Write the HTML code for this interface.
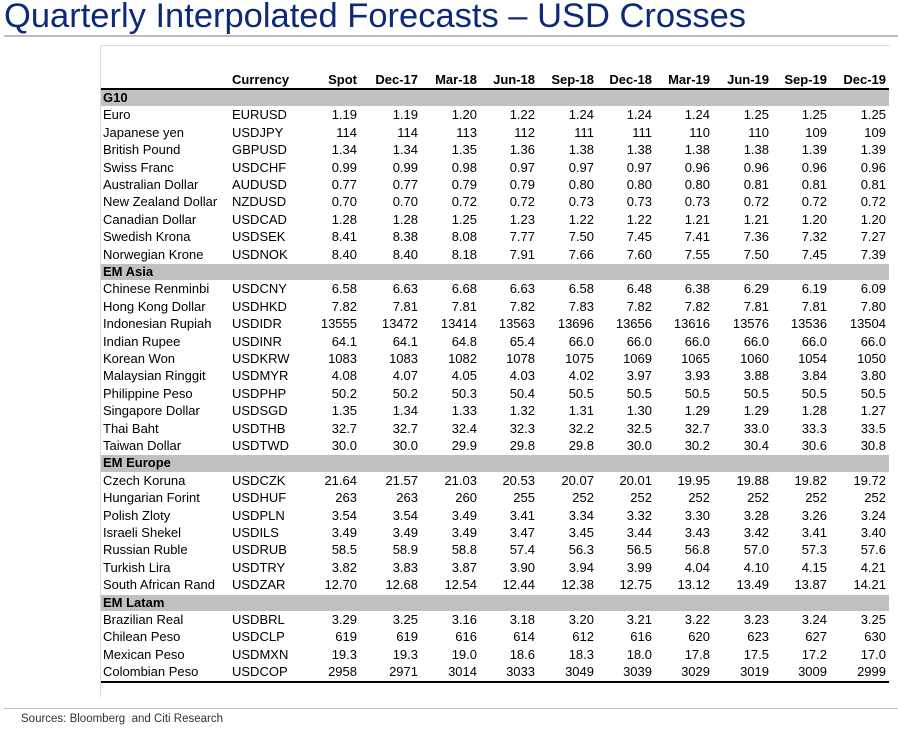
<!DOCTYPE html>
<html><head><meta charset="utf-8">
<style>
body{margin:0;width:898px;height:731px;background:#fff;position:relative;overflow:hidden;font-family:"Liberation Sans",Arial,sans-serif;}
.t{position:absolute;white-space:nowrap;font-size:13px;color:#000;line-height:17.4px;}
.b{font-weight:bold;}
</style></head><body>
<div style="position:absolute;left:4px;top:-3px;font-size:34.5px;color:#0d2a78;white-space:nowrap;">Quarterly Interpolated Forecasts – USD Crosses</div>
<div style="position:absolute;left:4px;top:35px;width:894px;height:2px;background:#bdbdbd;"></div>
<div style="position:absolute;left:100px;top:45px;width:790px;height:1px;background:#dcdcdc;"></div>
<div style="position:absolute;left:100px;top:45px;width:1px;height:652px;background:#dcdcdc;"></div>
<div style="position:absolute;left:4px;top:708px;width:894px;height:1px;background:#bdbdbd;"></div>
<div style="position:absolute;left:21px;top:713px;font-size:11.5px;color:#333;white-space:nowrap;">Sources: Bloomberg&nbsp; and Citi Research</div>
<div id="tbl"></div>
<script>
const headers=["Spot","Dec-17","Mar-18","Jun-18","Sep-18","Dec-18","Mar-19","Jun-19","Sep-19","Dec-19"];
const groups=["G10","EM Asia","EM Europe","EM Latam"];
const g10Names=["Euro","Japanese yen","British Pound","Swiss Franc","Australian Dollar","New Zealand Dollar","Canadian Dollar","Swedish Krona","Norwegian Krone"];
const g10Codes=["EURUSD","USDJPY","GBPUSD","USDCHF","AUDUSD","NZDUSD","USDCAD","USDSEK","USDNOK"];
const g10Values=[
["1.19","1.19","1.20","1.22","1.24","1.24","1.24","1.25","1.25","1.25"],
["114","114","113","112","111","111","110","110","109","109"],
["1.34","1.34","1.35","1.36","1.38","1.38","1.38","1.38","1.39","1.39"],
["0.99","0.99","0.98","0.97","0.97","0.97","0.96","0.96","0.96","0.96"],
["0.77","0.77","0.79","0.79","0.80","0.80","0.80","0.81","0.81","0.81"],
["0.70","0.70","0.72","0.72","0.73","0.73","0.73","0.72","0.72","0.72"],
["1.28","1.28","1.25","1.23","1.22","1.22","1.21","1.21","1.20","1.20"],
["8.41","8.38","8.08","7.77","7.50","7.45","7.41","7.36","7.32","7.27"],
["8.40","8.40","8.18","7.91","7.66","7.60","7.55","7.50","7.45","7.39"]];
const asiaNames=["Chinese Renminbi","Hong Kong Dollar","Indonesian Rupiah","Indian Rupee","Korean Won","Malaysian Ringgit","Philippine Peso","Singapore Dollar","Thai Baht","Taiwan Dollar"];
const asiaCodes=["USDCNY","USDHKD","USDIDR","USDINR","USDKRW","USDMYR","USDPHP","USDSGD","USDTHB","USDTWD"];
const asiaValues=[
["6.58","6.63","6.68","6.63","6.58","6.48","6.38","6.29","6.19","6.09"],
["7.82","7.81","7.81","7.82","7.83","7.82","7.82","7.81","7.81","7.80"],
["13555","13472","13414","13563","13696","13656","13616","13576","13536","13504"],
["64.1","64.1","64.8","65.4","66.0","66.0","66.0","66.0","66.0","66.0"],
["1083","1083","1082","1078","1075","1069","1065","1060","1054","1050"],
["4.08","4.07","4.05","4.03","4.02","3.97","3.93","3.88","3.84","3.80"],
["50.2","50.2","50.3","50.4","50.5","50.5","50.5","50.5","50.5","50.5"],
["1.35","1.34","1.33","1.32","1.31","1.30","1.29","1.29","1.28","1.27"],
["32.7","32.7","32.4","32.3","32.2","32.5","32.7","33.0","33.3","33.5"],
["30.0","30.0","29.9","29.8","29.8","30.0","30.2","30.4","30.6","30.8"]];
const eurNames=["Czech Koruna","Hungarian Forint","Polish Zloty","Israeli Shekel","Russian Ruble","Turkish Lira","South African Rand"];
const eurCodes=["USDCZK","USDHUF","USDPLN","USDILS","USDRUB","USDTRY","USDZAR"];
const eurValues=[
["21.64","21.57","21.03","20.53","20.07","20.01","19.95","19.88","19.82","19.72"],
["263","263","260","255","252","252","252","252","252","252"],
["3.54","3.54","3.49","3.41","3.34","3.32","3.30","3.28","3.26","3.24"],
["3.49","3.49","3.49","3.47","3.45","3.44","3.43","3.42","3.41","3.40"],
["58.5","58.9","58.8","57.4","56.3","56.5","56.8","57.0","57.3","57.6"],
["3.82","3.83","3.87","3.90","3.94","3.99","4.04","4.10","4.15","4.21"],
["12.70","12.68","12.54","12.44","12.38","12.75","13.12","13.49","13.87","14.21"]];
const latNames=["Brazilian Real","Chilean Peso","Mexican Peso","Colombian Peso"];
const latCodes=["USDBRL","USDCLP","USDMXN","USDCOP"];
const latValues=[
["3.29","3.25","3.16","3.18","3.20","3.21","3.22","3.23","3.24","3.25"],
["619","619","616","614","612","616","620","623","627","630"],
["19.3","19.3","19.0","18.6","18.3","18.0","17.8","17.5","17.2","17.0"],
["2958","2971","3014","3033","3049","3039","3029","3019","3009","2999"]];

const colRight=[357,418,477,535,594,652,710,769,827,886];
const rowH=17.4, top0=89;
const tbl=document.getElementById('tbl');
function txt(s,x,y,cls,right){
  const d=document.createElement('div');
  d.className='t '+cls;
  d.textContent=s;
  if(right){d.style.right=(898-x)+'px';}else{d.style.left=x+'px';}
  d.style.top=y+'px';
  tbl.appendChild(d);
  return d;
}
let h=txt('Currency',232,71,'b',false);


headers.forEach((s,i)=>{
  const e=txt(s,colRight[i],71,'b',true);
  
  
});
const hl=document.createElement('div');
hl.style.cssText='position:absolute;left:101px;top:88px;width:788px;height:2px;background:#000;';


tbl.appendChild(hl);
const sets=[[g10Names,g10Codes,g10Values],[asiaNames,asiaCodes,asiaValues],[eurNames,eurCodes,eurValues],[latNames,latCodes,latValues]];
let r=0;
sets.forEach((s,gi)=>{
  const y=top0+r*rowH;
  const band=document.createElement('div');
  band.style.cssText='position:absolute;left:101px;top:'+(y+1)+'px;width:788px;height:'+(rowH-1)+'px;background:#c0c0c0;';
  
  
  tbl.appendChild(band);
  const g=txt(groups[gi],103,y,'b',false);
  
  
  r++;
  s[0].forEach((n,k)=>{
    const yy=top0+r*rowH;
    const a=txt(n,103,yy,'',false);
    
    
    const c=txt(s[1][k],232,yy,'',false);
    
    
    s[2][k].forEach((v,j)=>{
      const e=txt(v,colRight[j],yy,'',true);
      
      
    });
    r++;
  });
});
const bl=document.createElement('div');
bl.style.cssText='position:absolute;left:101px;top:'+(top0+r*rowH+0.5)+'px;width:788px;height:2px;background:#000;';


tbl.appendChild(bl);
</script>
</body></html>
